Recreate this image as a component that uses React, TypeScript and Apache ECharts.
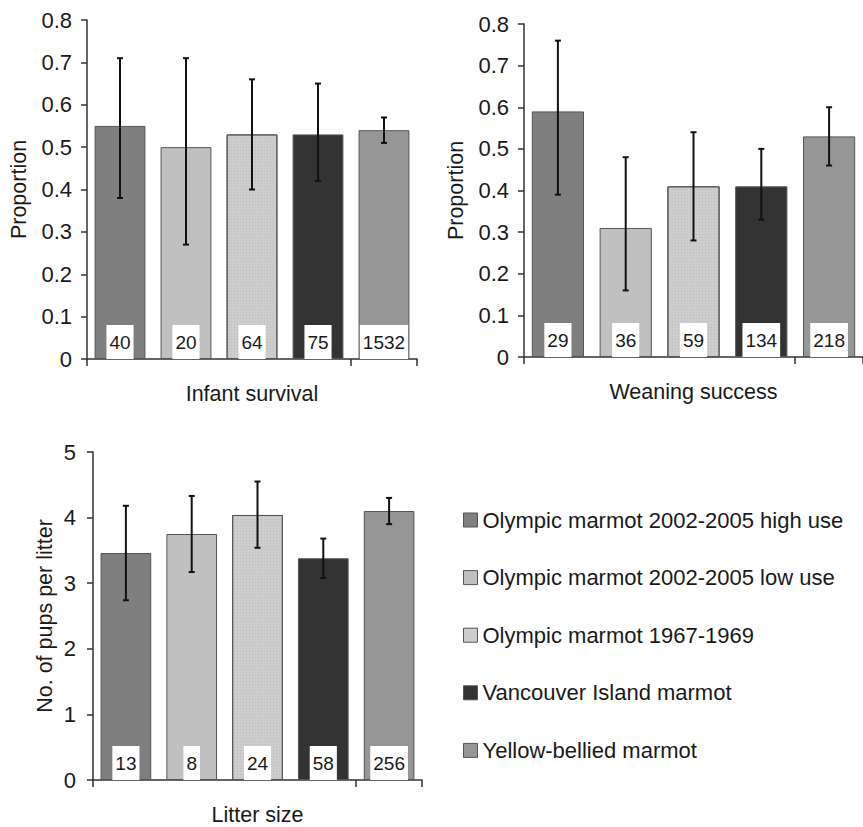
import React, { useEffect, useRef } from "react";
import * as echarts from "echarts";

const groups = [
  "Olympic marmot 2002-2005 high use",
  "Olympic marmot 2002-2005 low use",
  "Olympic marmot 1967-1969",
  "Vancouver Island marmot",
  "Yellow-bellied marmot",
];
const groupColors = ["#7f7f7f", "#c0c0c0", "#cdcdcd", "#333333", "#969696"];

// Infant survival
const survivalMean = [0.55, 0.5, 0.53, 0.53, 0.54];
const survivalLow = [0.38, 0.27, 0.4, 0.42, 0.51];
const survivalHigh = [0.71, 0.71, 0.66, 0.65, 0.57];
const survivalN = [40, 20, 64, 75, 1532];

// Weaning success
const weaningMean = [0.59, 0.31, 0.41, 0.41, 0.53];
const weaningLow = [0.39, 0.16, 0.28, 0.33, 0.46];
const weaningHigh = [0.76, 0.48, 0.54, 0.5, 0.6];
const weaningN = [29, 36, 59, 134, 218];

// Litter size
const litterMean = [3.46, 3.75, 4.04, 3.38, 4.1];
const litterLow = [2.74, 3.17, 3.54, 3.08, 3.9];
const litterHigh = [4.18, 4.33, 4.55, 3.68, 4.3];
const litterN = [13, 8, 24, 58, 256];

const panels = [
  { name: "Infant survival", yName: "Proportion", mean: survivalMean, low: survivalLow, high: survivalHigh, n: survivalN, max: 0.8, interval: 0.1 },
  { name: "Weaning success", yName: "Proportion", mean: weaningMean, low: weaningLow, high: weaningHigh, n: weaningN, max: 0.8, interval: 0.1 },
  { name: "Litter size", yName: "No. of pups per litter", mean: litterMean, low: litterLow, high: litterHigh, n: litterN, max: 5, interval: 1 },
];

const FONT = "Liberation Sans, Arial, sans-serif";
const TEXT = "#1a1a1a";
const AXIS = "#333333";
const FS = 21.5;

export default function App() {
  const ref = useRef<HTMLDivElement>(null);
  useEffect(() => {
    if (!ref.current) return;
    const chart = echarts.init(ref.current, undefined, { renderer: "svg" });

    const grids = [
      { left: 87, top: 20, width: 330, height: 339 },
      { left: 524, top: 24, width: 346, height: 333 },
      { left: 93, top: 452, width: 329, height: 331 },
    ];
    const yNameGaps = [57, 57, 37];
    const yLabelMargins = [15, 15, 17];

    const xAxes = panels.map((p, g) => ({
      type: "category",
      gridIndex: g,
      data: groups,
      axisLabel: { show: false },
      axisTick: { show: true, length: 7, lineStyle: { color: AXIS, width: 1.5 } },
      axisLine: { lineStyle: { color: AXIS, width: 1.5 } },
      name: p.name,
      nameLocation: "middle",
      nameGap: 24,
      nameTextStyle: { fontSize: FS, fontFamily: FONT, color: TEXT },
    }));
    const yAxes = panels.map((p, g) => ({
      type: "value",
      gridIndex: g,
      min: 0,
      max: p.max,
      interval: p.interval,
      splitLine: { show: false },
      axisLine: { show: true, lineStyle: { color: AXIS, width: 1.5 } },
      axisTick: { show: true, length: 6, lineStyle: { color: AXIS, width: 1.5 } },
      axisLabel: { fontSize: 22, fontFamily: FONT, color: TEXT, margin: yLabelMargins[g] },
      name: p.yName,
      nameLocation: "middle",
      nameGap: yNameGaps[g],
      nameRotate: 90,
      nameTextStyle: { fontSize: FS, fontFamily: FONT, color: TEXT },
    }));

    const series: any[] = [];
    panels.forEach((p, g) => {
      groups.forEach((name, i) => {
        series.push({
          type: "bar",
          name,
          xAxisIndex: g,
          yAxisIndex: g,
          barWidth: "77%",
          barGap: "-100%",
          data: p.mean.map((v, j) => (j === i ? v : "-")),
          itemStyle: {
            color: groupColors[i],
            borderColor: "#555555",
            borderWidth: 1,
            decal: i === 2
              ? { symbol: "rect", symbolSize: 1, dashArrayX: [1, 2], dashArrayY: [1, 2], color: "rgba(150,150,150,0.35)" }
              : undefined,
          },
          label: {
            show: true,
            position: "insideBottom",
            distance: 0,
            formatter: () => String(p.n[i]),
            backgroundColor: "#ffffff",
            padding: [8, 3, 7, 3],
            fontSize: 19,
            fontFamily: FONT,
            color: TEXT,
          },
        });
      });
      series.push({
        type: "custom",
        xAxisIndex: g,
        yAxisIndex: g,
        z: 5,
        data: p.mean.map((_, j) => [j, p.low[j], p.high[j]]),
        renderItem: (params: any, api: any) => {
          const lo = api.coord([api.value(0), api.value(1)]);
          const hi = api.coord([api.value(0), api.value(2)]);
          const cap = 3;
          const style = { stroke: "#111111", lineWidth: 2 };
          return {
            type: "group",
            children: [
              { type: "line", shape: { x1: lo[0], y1: lo[1], x2: hi[0], y2: hi[1] }, style },
              { type: "line", shape: { x1: hi[0] - cap, y1: hi[1], x2: hi[0] + cap, y2: hi[1] }, style },
              { type: "line", shape: { x1: lo[0] - cap, y1: lo[1], x2: lo[0] + cap, y2: lo[1] }, style },
            ],
          };
        },
      });
    });

    chart.setOption({
      animation: false,
      backgroundColor: "#ffffff",
      textStyle: { fontFamily: FONT },
      grid: grids,
      xAxis: xAxes,
      yAxis: yAxes,
      legend: {
        data: groups,
        orient: "vertical",
        left: 463,
        top: 509,
        padding: 0,
        itemWidth: 14,
        itemHeight: 14,
        itemGap: 35.6,
        icon: "rect",
        itemStyle: { borderColor: "#555555", borderWidth: 1, decal: "none" },
        textStyle: { fontSize: 22, fontFamily: FONT, color: TEXT },
      },
      series,
    });
    return () => chart.dispose();
  }, []);
  return (
    <div
      ref={ref}
      style={{ position: "absolute", left: 0, top: 0, width: 863, height: 827 }}
    />
  );
}
